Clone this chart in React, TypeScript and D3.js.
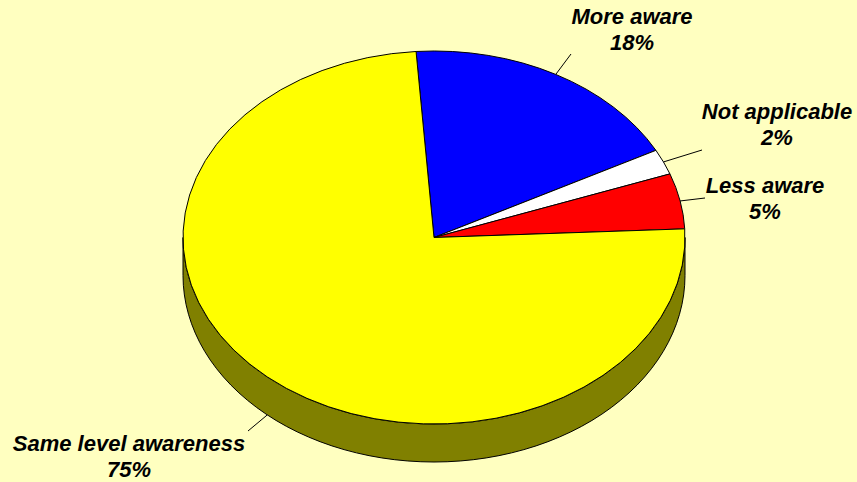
import React from 'react';
import { pie, arc, range, line, PieArcDatum } from 'd3';

const width = 857;
const height = 482;

const categories = ['More aware', 'Not applicable', 'Less aware', 'Same level awareness'];
const shares = [18.4, 2.2, 4.8, 74.6];
const pctLabels = ['18%', '2%', '5%', '75%'];
const topColors = ['#0000FF', '#FFFFFF', '#FF0000', '#FFFF00'];
const sideColors = ['#000080', '#808080', '#800000', '#808000'];

// label layout (first-line baseline) and leader line ends
const labelAt = [[632, 24], [777, 119], [765, 193], [129, 451]];
const leaderEnd = [[571, 54], [702, 150], [705, 198], [248, 431]];

const cx = 434;
const cy = 237.5;
const rx = 251;
const ry = 186.5;
const depth = 38;
const startDeg = -4.1;

const pt = (a: number, dy = 0): [number, number] =>
  [cx + rx * Math.sin(a), cy - ry * Math.cos(a) + dy];

function App() {
  const start = (startDeg * Math.PI) / 180;
  const slices = pie<number>().sort(null).startAngle(start).endAngle(start + 2 * Math.PI)(shares);

  const arcGen = arc<PieArcDatum<number>>().innerRadius(0).outerRadius(rx);
  const lineGen = line();

  // visible side between PI/2 and 3PI/2 (front half)
  const sidePath = (d: PieArcDatum<number>) => {
    const lo = Math.PI / 2;
    const hi = (3 * Math.PI) / 2;
    // normalise angles into [start, start+2PI)
    const a0 = Math.max(d.startAngle, lo);
    const a1 = Math.min(d.endAngle, hi);
    if (a1 <= a0) return null;
    const n = 60;
    const topPts = range(n + 1).map(i => pt(a0 + ((a1 - a0) * i) / n));
    const botPts = range(n + 1).map(i => pt(a1 - ((a1 - a0) * i) / n, depth));
    return lineGen([...topPts, ...botPts])! + 'Z';
  };

  const leaderStart = (d: PieArcDatum<number>) => {
    const mid = (d.startAngle + d.endAngle) / 2;
    const m = ((mid % (2 * Math.PI)) + 2 * Math.PI) % (2 * Math.PI);
    const front = m > Math.PI / 2 && m < (3 * Math.PI) / 2;
    return pt(mid, front ? depth : 0);
  };

  return (
    <svg width={width} height={height} style={{ position: 'absolute', left: 0, top: 0 }}>
      <rect x={0} y={0} width={width} height={height} fill="#FFFFC0" />
      <g>
        {slices.map((d, i) => {
          const p = sidePath(d);
          return p ? (
            <path key={'s' + i} d={p} fill={sideColors[i]} stroke="#000" strokeWidth={1} strokeLinejoin="round" />
          ) : null;
        })}
      </g>
      <g transform={`translate(${cx}, ${cy}) scale(1, ${ry / rx})`}>
        {slices.map((d, i) => (
          <path
            key={'t' + i}
            d={arcGen(d)!}
            fill={topColors[i]}
            stroke="#000"
            strokeWidth={1}
            strokeLinejoin="round"
            vectorEffect="non-scaling-stroke"
          />
        ))}
      </g>
      <g>
        {slices.map((d, i) => {
          const [x1, y1] = leaderStart(d);
          return (
            <line key={'l' + i} x1={x1} y1={y1} x2={leaderEnd[i][0]} y2={leaderEnd[i][1]} stroke="#000" strokeWidth={1} />
          );
        })}
      </g>
      <g
        fontFamily="'Liberation Sans', Arial, sans-serif"
        fontWeight="bold"
        fontStyle="italic"
        fontSize={22}
        textAnchor="middle"
        fill="#000"
      >
        {categories.map((c, i) => (
          <text key={'x' + i} x={labelAt[i][0]} y={labelAt[i][1]}>
            <tspan x={labelAt[i][0]}>{c}</tspan>
            <tspan x={labelAt[i][0]} dy={26}>{pctLabels[i]}</tspan>
          </text>
        ))}
      </g>
    </svg>
  );
}

export default App;
